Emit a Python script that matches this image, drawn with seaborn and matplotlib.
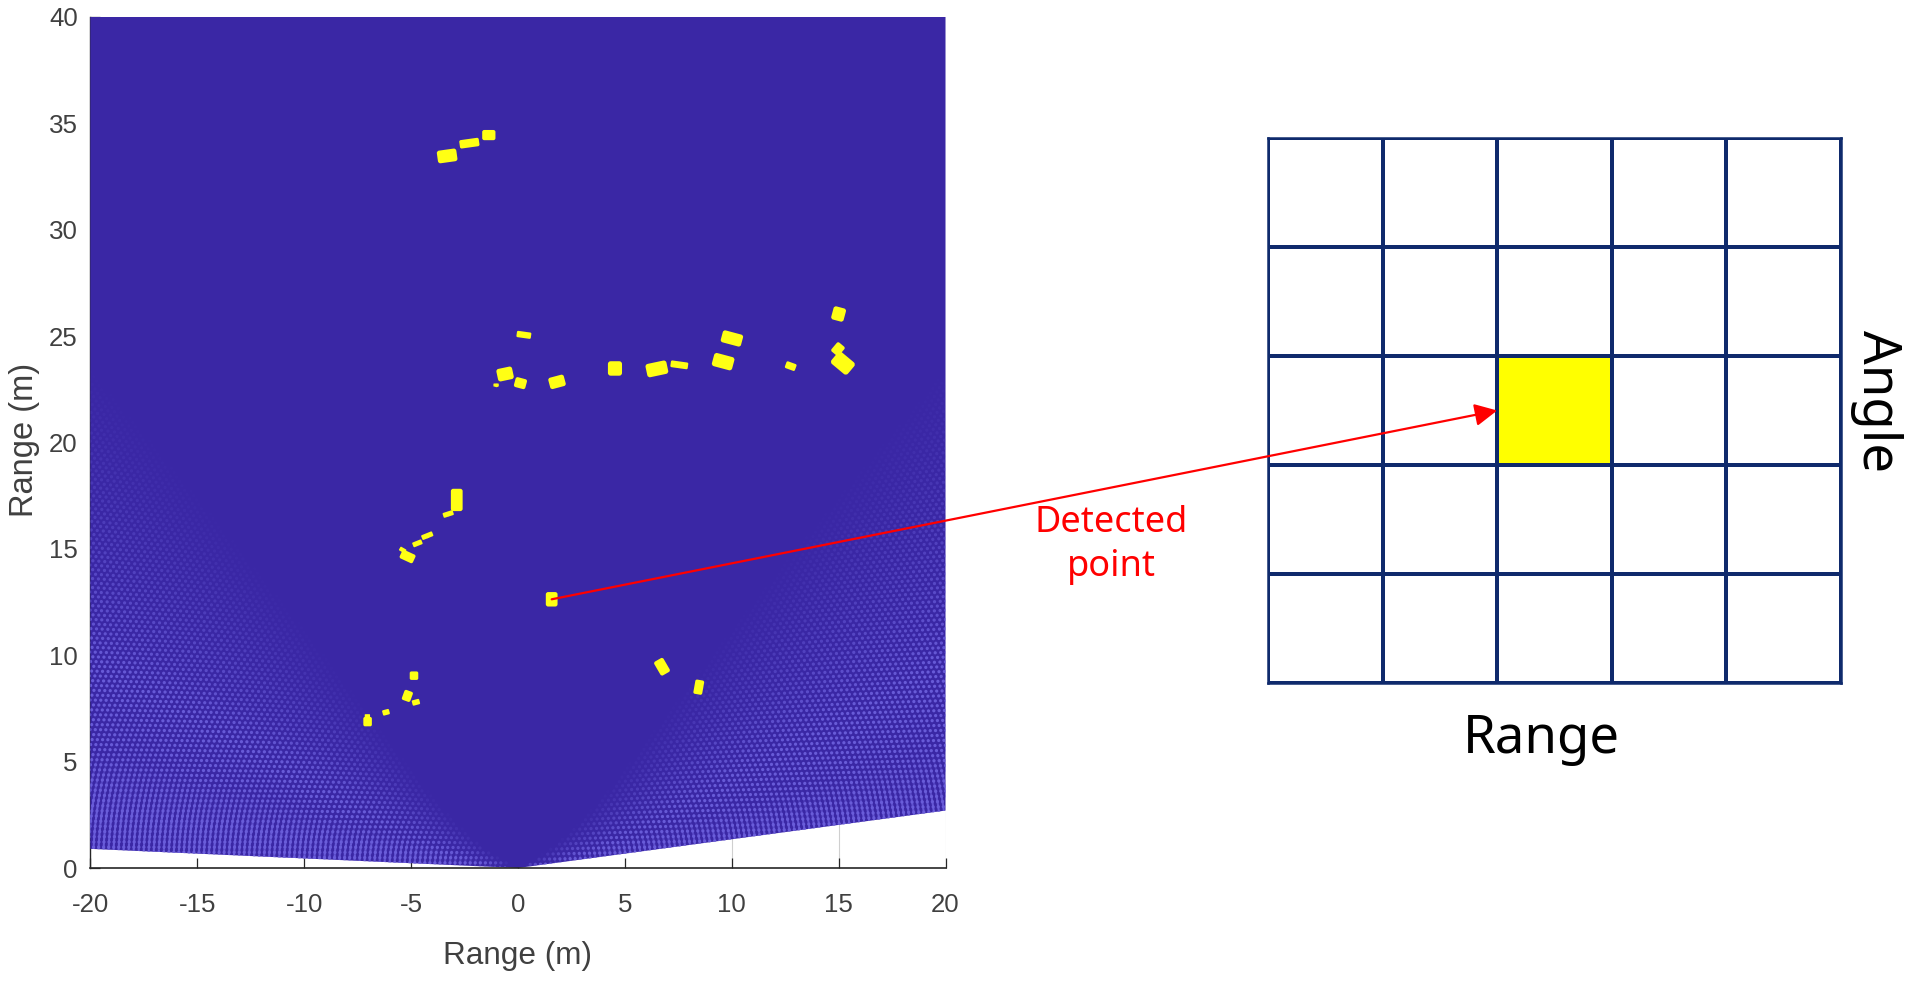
import numpy as np
import matplotlib
matplotlib.use("Agg")
import matplotlib.pyplot as plt
import seaborn as sns
from matplotlib.collections import LineCollection
from matplotlib.colors import ListedColormap
from matplotlib.patches import Polygon, FancyBboxPatch
from matplotlib.transforms import Affine2D

# ---------- data ----------
fan_x = [-20, 0, 20, 20, -20]
fan_y = [0.9, 0, 2.7, 40, 40]

blob_x = [-3.31, -2.27, -1.36, 0.28, -0.60, 0.12, -1.02, 1.83, 4.54, 6.50, 7.55, 10.01, 9.60, 12.76,
          15.00, 14.97, 15.20, -2.86, -3.26, -4.24, -4.70, -5.16, -5.39, 1.58, 6.74, 8.46,
          -4.86, -5.17, -4.77, -6.17, -7.03, -7.04]
blob_y = [33.47, 34.07, 34.45, 25.06, 23.22, 22.79, 22.70, 22.85, 23.48, 23.46, 23.65, 24.89, 23.80, 23.59,
          26.04, 24.39, 23.73, 17.30, 16.64, 15.62, 15.26, 14.64, 14.95, 12.63, 9.46, 8.50,
          9.04, 8.09, 7.79, 7.32, 6.88, 7.15]
blob_w = [0.92, 0.92, 0.62, 0.68, 0.75, 0.55, 0.25, 0.75, 0.66, 1.00, 0.82, 0.98, 0.98, 0.50,
          0.60, 0.46, 1.00, 0.55, 0.50, 0.55, 0.46, 0.68, 0.32, 0.55, 0.50, 0.42,
          0.40, 0.42, 0.36, 0.33, 0.40, 0.25]
blob_h = [0.60, 0.40, 0.48, 0.30, 0.60, 0.48, 0.15, 0.55, 0.68, 0.64, 0.32, 0.58, 0.64, 0.34,
          0.64, 0.55, 0.72, 1.05, 0.24, 0.24, 0.24, 0.44, 0.20, 0.68, 0.75, 0.68,
          0.40, 0.50, 0.26, 0.26, 0.44, 0.16]
blob_tilt = [8, 8, 0, -8, 12, -15, 0, 15, 0, 12, -8, -15, -15, -20,
             -15, -40, -40, 0, 18, 22, 22, -25, -30, 0, 30, -10,
             0, -20, 15, 15, 0, 0]

x_ticks = [-20, -15, -10, -5, 0, 5, 10, 15, 20]
y_ticks = [0, 5, 10, 15, 20, 25, 30, 35, 40]
x_label = "Range (m)"
y_label = "Range (m)"

cell_grid = [[0, 0, 0, 0, 0],
             [0, 0, 0, 0, 0],
             [0, 0, 1, 0, 0],
             [0, 0, 0, 0, 0],
             [0, 0, 0, 0, 0]]
grid_xlabel = "Range"
grid_ylabel = "Angle"
callout = "Detected\npoint"
detected_point = (1.58, 12.63)

# ---------- style ----------
FAN = "#3A27A5"
LIGHT = np.array([0.42, 0.37, 0.86])
YELLOW = "#FFFF14"
NAVY = "#0F2A6C"
W, H = 1913, 983

sns.set_style("white")
plt.rcParams["font.family"] = ["Liberation Sans", "DejaVu Sans"]
plt.rcParams["axes.unicode_minus"] = False

fig = plt.figure(figsize=(W / 100, H / 100), dpi=100, facecolor="white")

# ---------- left: detection map ----------
ax = fig.add_axes([90.3 / W, 1 - 868 / H, (945.5 - 90.3) / W, (868 - 17) / H])
ax.set_xlim(-20, 20)
ax.set_ylim(0, 40)
ax.set_axisbelow(True)

for v in (10, 15, 20):
    ax.axvline(v, color="#cfcfcf", lw=0.8, zorder=0)

fan = Polygon(np.column_stack([fan_x, fan_y]), closed=True, facecolor=FAN, edgecolor="none", zorder=1)
ax.add_patch(fan)


def ramp(theta, r):
    start = 40.0 + 26.0 * np.exp(-np.asarray(r) / 5.0)
    return np.clip((np.abs(theta) - start) / 24.0, 0, 1)


# mesh texture (polar range/angle cells) that shows only at wide angles
px, py, pc = [], [], []
for r in np.arange(0.6, 40, 0.235):
    th = np.arange(-90, 90, np.degrees(0.245 / r))
    a = ramp(th, r) * 0.95
    keep = a > 0.02
    px.append(r * np.sin(np.radians(th[keep])))
    py.append(r * np.cos(np.radians(th[keep])))
    pc.append(a[keep])
px, py, pc = np.concatenate(px), np.concatenate(py), np.concatenate(pc)
dots = ax.scatter(px, py, s=5.5, c=np.column_stack([np.tile(LIGHT, (len(pc), 1)), pc]),
                  linewidths=0, zorder=2)
dots.set_clip_path(fan)

# long stripes close to the wide-angle limit, where the cells stretch
segs, cols = [], []
band = np.radians(np.arange(-90, 90.01, 0.6))
for r in np.arange(0.6, 30, 0.235):
    xs, ys = r * np.sin(band), r * np.cos(band)
    mid = np.degrees((band[:-1] + band[1:]) / 2)
    a = np.clip((np.abs(mid) - 74) / 8.0, 0, 1) * 0.95 * np.clip(r / 5.0, 0, 1)
    for i in np.nonzero(a > 0)[0]:
        segs.append([(xs[i], ys[i]), (xs[i + 1], ys[i + 1])])
        cols.append((*LIGHT, a[i]))
arcs = LineCollection(segs, colors=cols, linewidths=1.5, zorder=2)
ax.add_collection(arcs)
arcs.set_clip_path(fan)

# detections
for x, y, w, h, t in zip(blob_x, blob_y, blob_w, blob_h, blob_tilt):
    rnd = min(w, h) * 0.2
    p = FancyBboxPatch((x - w / 2 + rnd, y - h / 2 + rnd), w - 2 * rnd, h - 2 * rnd,
                       boxstyle=f"round,pad={rnd},rounding_size={rnd}",
                       facecolor=YELLOW, edgecolor="none", zorder=3)
    p.set_transform(Affine2D().rotate_deg_around(x, y, t) + ax.transData)
    ax.add_patch(p)
sns.scatterplot(x=blob_x, y=blob_y, s=6, color=YELLOW, linewidth=0, ax=ax, zorder=3, legend=False)

for s in ("top", "right"):
    ax.spines[s].set_visible(False)
ax.spines["left"].set_color("#262626")
ax.spines["left"].set_linewidth(1.0)
ax.spines["left"].set_zorder(0.5)
ax.spines["bottom"].set_color("#262626")
ax.spines["bottom"].set_linewidth(1.2)
ax.set_xticks(x_ticks)
ax.set_yticks(y_ticks)
ax.tick_params(axis="both", direction="in", length=7, width=0.9, color="#262626",
               labelsize=18.6, labelcolor="#404040", left=True, bottom=True)
ax.tick_params(axis="x", pad=18)
ax.tick_params(axis="y", pad=9)
ax.set_xlabel(x_label, fontsize=22.7, color="#404040", labelpad=17)
ax.set_ylabel(y_label, fontsize=23.5, color="#404040", labelpad=6, y=0.503)

# ---------- right: range-angle cells ----------
gx = fig.add_axes([1268 / W, 1 - 683 / H, (1841 - 1268) / W, (683 - 138) / H])
sns.heatmap(np.array(cell_grid), ax=gx, cmap=ListedColormap(["white", "#FFFF00"]), cbar=False,
            linewidths=1.6, linecolor=NAVY, square=False, xticklabels=False, yticklabels=False,
            vmin=0, vmax=1)
for s in gx.spines.values():
    s.set_visible(True)
    s.set_color(NAVY)
    s.set_linewidth(1.8)

# ---------- annotations ----------
NOTO = ["Noto Sans", "DejaVu Sans"]
fig.text(1541 / W, 1 - 740 / H, grid_xlabel, fontsize=38, family=NOTO, color="black", ha="center", va="center")
fig.text(1877 / W, 1 - 401 / H, grid_ylabel, fontsize=38, family=NOTO, color="black",
         rotation=270, ha="center", va="center")
fig.text(1111 / W, 1 - 545 / H, callout, fontsize=26, family=NOTO, color="#FF0000",
         ha="center", va="center", linespacing=1.3)

gx.annotate("", xy=(2, 2.5), xycoords=gx.transData,
            xytext=detected_point, textcoords=ax.transData,
            arrowprops=dict(arrowstyle="-|>,head_length=0.8,head_width=0.4", color="#FF0000",
                            lw=1.6, shrinkA=0, shrinkB=0, mutation_scale=17),
            annotation_clip=False, zorder=20)

fig.savefig("out.png", dpi=100, facecolor="white")
